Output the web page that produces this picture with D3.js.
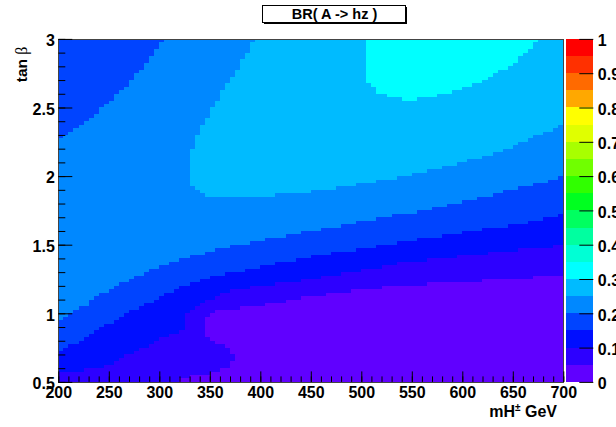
<!DOCTYPE html>
<html>
<head>
<meta charset="utf-8">
<script src="https://cdn.jsdelivr.net/npm/d3@7"></script>
<style>
  html, body { margin: 0; padding: 0; background: #fff; }
  svg { display: block; }
  text { font-family: "Liberation Sans", Arial, Helvetica, sans-serif; font-weight: bold; }
</style>
</head>
<body>
<svg id="chart" width="616" height="427"></svg>
<script>
// ---- histogram binning (mH+ in GeV, tan beta) ----
const massRange = [200, 700];
const tanbRange = [0.5, 3.0];
const massBins = 100;
const tanbBins = 100;

// ---- contour levels of BR(A -> hz): 20 bands of 0.05 ----
const levelStep = 0.05;
const levelColors = [
  "#6000ff", "#2d00ff", "#000eff", "#0044ff", "#0088ff",
  "#00bbff", "#00ffff", "#00ffd5", "#00ffa0", "#00ff60",
  "#00ff20", "#30ff00", "#70ff00", "#a8ff00", "#e0ff00",
  "#ffff00", "#ffa800", "#ff6a00", "#ff3000", "#ff0000"
];

// ---- regions where BR exceeds each contour, as [mH, tanb] outlines ----
const regionAbove005 = [[199,0.49],[322,0.49],[322,0.525],[335,0.542],[352,0.561],[368,0.609],[375,0.658],
  [372,0.71],[365,0.755],[355,0.79],[345,0.828],[345,0.974],[355,1.01],[375,1.035],[415,1.071],[440,1.115],
  [469,1.144],[499,1.173],[539,1.198],[575,1.217],[619,1.236],[659,1.258],[701,1.278],[701,3.1],[199,3.1]];

const regionAbove010 = [[199,0.561],[210,0.573],[230,0.59],[250,0.622],[269,0.695],[289,0.767],[309,0.84],
  [325,0.877],[325,0.998],[330,1.02],[340,1.07],[350,1.095],[360,1.132],[375,1.172],[395,1.192],[415,1.21],
  [435,1.232],[455,1.258],[485,1.294],[505,1.319],[539,1.367],[580,1.399],[620,1.431],[659,1.465],
  [701,1.496],[701,3.1],[199,3.1]];

const regionAbove015 = [[199,0.715],[205,0.731],[225,0.816],[245,0.905],[264,0.986],[281,1.04],[304,1.125],
  [325,1.205],[340,1.241],[360,1.278],[400,1.338],[434,1.387],[455,1.421],[490,1.455],[539,1.518],
  [580,1.562],[620,1.611],[660,1.655],[701,1.727],[701,3.1],[199,3.1]];

const regionAbove020 = [[199,0.945],[205,0.974],[225,1.047],[240,1.132],[259,1.205],[279,1.278],[304,1.343],
  [325,1.4],[360,1.472],[395,1.52],[429,1.569],[464,1.618],[489,1.654],[505,1.673],[539,1.722],[560,1.746],
  [590,1.795],[620,1.848],[650,1.902],[674,1.946],[701,1.994],[701,3.1],[305,3.1],[304,3.0],[301,2.954],
  [295,2.894],[290,2.845],[285,2.796],[279,2.76],[274,2.711],[270,2.663],[265,2.638],[260,2.614],
  [255,2.577],[250,2.541],[245,2.517],[240,2.48],[235,2.444],[230,2.42],[225,2.395],[220,2.371],
  [214,2.34],[209,2.31],[204,2.29],[199,2.274]];

const regionAbove025 = [[394,3.1],[394,3.0],[390,2.918],[385,2.869],[380,2.82],[375,2.748],[370,2.699],
  [365,2.65],[360,2.577],[355,2.53],[350,2.456],[345,2.407],[340,2.335],[335,2.249],[330,2.165],
  [330,1.934],[334,1.91],[340,1.873],[355,1.848],[400,1.855],[429,1.868],[459,1.895],[485,1.926],
  [525,1.975],[554,2.023],[585,2.072],[620,2.14],[650,2.213],[674,2.298],[701,2.376],[701,3.1]];

const regionAbove030 = [[505,3.1],[505,2.70],[510,2.67],[515,2.62],[515,2.60],[530,2.585],[545,2.55],
  [575,2.59],[600,2.633],[620,2.687],[634,2.748],[650,2.82],[660,2.88],[669,2.94],[674,2.978],[674,3.1]];

const contourRegions = [regionAbove005, regionAbove010, regionAbove015,
                        regionAbove020, regionAbove025, regionAbove030];

// ---- axis ticks ----
const massMajorTicks = [200, 250, 300, 350, 400, 450, 500, 550, 600, 650, 700];
const tanbMajorTicks = [0.5, 1, 1.5, 2, 2.5, 3];
const tanbTickLabels = ["0.5", "1", "1.5", "2", "2.5", "3"];
const paletteTicks = [0, 0.1, 0.2, 0.3, 0.4, 0.5, 0.6, 0.7, 0.8, 0.9, 1];
const paletteTickLabels = ["0", "0.1", "0.2", "0.3", "0.4", "0.5", "0.6", "0.7", "0.8", "0.9", "1"];

// ---- layout ----
const frame = { left: 58.3, right: 563.3, top: 38.9, bottom: 381.9 };
const palette = { left: 565.7, right: 593.3 };

const svg = d3.select("#chart");

const x = d3.scaleLinear().domain(massRange).range([frame.left, frame.right]);
const y = d3.scaleLinear().domain(tanbRange).range([frame.bottom, frame.top]);
const z = d3.scaleLinear().domain([0, 1]).range([frame.bottom, frame.top]);

// ---- histogram cells ----
const dm = (massRange[1] - massRange[0]) / massBins;
const dt = (tanbRange[1] - tanbRange[0]) / tanbBins;

function levelAt(m, t) {
  let k = 0;
  contourRegions.forEach(poly => { if (d3.polygonContains(poly, [m, t])) k++; });
  return k;
}

// merge neighbouring bins with the same level inside a row
const cells = [];
for (let j = 0; j < tanbBins; j++) {
  const t0 = tanbRange[0] + j * dt, t1 = t0 + dt;
  let runStart = 0, runLevel = levelAt(massRange[0] + dm / 2, t0 + dt / 2);
  for (let i = 1; i <= massBins; i++) {
    const lev = i < massBins ? levelAt(massRange[0] + (i + 0.5) * dm, t0 + dt / 2) : -1;
    if (lev !== runLevel) {
      cells.push({ m0: massRange[0] + runStart * dm, m1: massRange[0] + i * dm, t0, t1, level: runLevel });
      runStart = i; runLevel = lev;
    }
  }
}

svg.append("g").attr("shape-rendering", "crispEdges")
  .selectAll("rect").data(cells).join("rect")
  .attr("x", d => Math.round(x(d.m0)))
  .attr("y", d => Math.round(y(d.t1)))
  .attr("width", d => Math.round(x(d.m1)) - Math.round(x(d.m0)))
  .attr("height", d => Math.round(y(d.t0)) - Math.round(y(d.t1)))
  .attr("fill", d => levelColors[d.level]);

// ---- frame ----
svg.append("rect")
  .attr("x", Math.round(frame.left) + 0.5).attr("y", Math.round(frame.top) + 0.5)
  .attr("width", Math.round(frame.right) - Math.round(frame.left))
  .attr("height", Math.round(frame.bottom) - Math.round(frame.top))
  .attr("fill", "none").attr("stroke", "#444").attr("stroke-width", 1);

// ---- axes ----
function minorValues(lo, hi, step) {
  const n = Math.round((hi - lo) / step);
  return d3.range(n + 1).map(i => +(lo + i * step).toFixed(4));
}

const tickStyle = g => {
  g.select(".domain").remove();
  g.selectAll("line").attr("stroke", "#000");
  g.selectAll("text").attr("fill", "#000").style("font-size", "16px");
};

// bottom axis (mH+)
svg.append("g").attr("transform", `translate(0,${frame.bottom})`)
  .call(d3.axisBottom(x).tickValues(minorValues(200, 700, 10)).tickSize(-5.5).tickFormat(""))
  .call(tickStyle);
svg.append("g").attr("transform", `translate(0,${frame.bottom})`)
  .call(d3.axisBottom(x).tickValues(massMajorTicks).tickSize(-10.5).tickPadding(5).tickFormat(d3.format("d")))
  .call(tickStyle);

// left axis (tan beta)
svg.append("g").attr("transform", `translate(${frame.left},0)`)
  .call(d3.axisLeft(y).tickValues(minorValues(0.5, 3, 0.1)).tickSize(-7).tickFormat(""))
  .call(tickStyle);
svg.append("g").attr("transform", `translate(${frame.left},0)`)
  .call(d3.axisLeft(y).tickValues(tanbMajorTicks).tickSize(-14).tickPadding(3.5)
        .tickFormat((d, i) => tanbTickLabels[i]))
  .call(tickStyle)
  .call(g => g.selectAll("text").attr("dy", "0.42em"));

// ---- colour palette ----
const paletteLevels = d3.range(levelColors.length);
svg.append("g").attr("shape-rendering", "crispEdges")
  .selectAll("rect").data(paletteLevels).join("rect")
  .attr("x", Math.round(palette.left))
  .attr("y", k => Math.round(z((k + 1) * levelStep)))
  .attr("width", Math.round(palette.right) - Math.round(palette.left))
  .attr("height", k => Math.round(z(k * levelStep)) - Math.round(z((k + 1) * levelStep)))
  .attr("fill", k => levelColors[k]);

svg.append("g").attr("transform", `translate(${palette.right},0)`)
  .call(d3.axisRight(z).tickValues(paletteTicks).tickSize(-14).tickPadding(4.5)
        .tickFormat((d, i) => paletteTickLabels[i]))
  .call(tickStyle)
  .call(g => g.selectAll("text").attr("dy", "0.42em"));

// ---- axis titles ----
const xTitle = svg.append("text")
  .attr("x", 557).attr("y", 417).attr("text-anchor", "end")
  .style("font-size", "16px").attr("fill", "#000");
xTitle.append("tspan").text("mH");
xTitle.append("tspan").attr("dy", -6).style("font-size", "10px").text("±");
xTitle.append("tspan").attr("dy", 6).text(" GeV");

const yTitle = svg.append("text")
  .attr("transform", "translate(26.5,46.5) rotate(-90)")
  .attr("text-anchor", "end").style("font-size", "15.5px").attr("fill", "#000");
yTitle.append("tspan").text("tan ");
yTitle.append("tspan").style("font-family", "'Liberation Serif', serif").style("font-weight", "normal")
  .style("font-size", "16px").text("β");

// ---- title box ----
const titleBox = { x: 262, y: 5, w: 143, h: 17 };
svg.append("rect")
  .attr("x", titleBox.x + 2).attr("y", titleBox.y + 2)
  .attr("width", titleBox.w).attr("height", titleBox.h).attr("fill", "#000");
svg.append("rect")
  .attr("x", titleBox.x + 0.5).attr("y", titleBox.y + 0.5)
  .attr("width", titleBox.w).attr("height", titleBox.h)
  .attr("fill", "#fff").attr("stroke", "#000").attr("stroke-width", 1);
svg.append("text")
  .attr("x", titleBox.x + titleBox.w / 2 + 1).attr("y", titleBox.y + 13.5)
  .attr("text-anchor", "middle").style("font-size", "14.5px").attr("fill", "#000")
  .text("BR( A -> hz )");
</script>
</body>
</html>
